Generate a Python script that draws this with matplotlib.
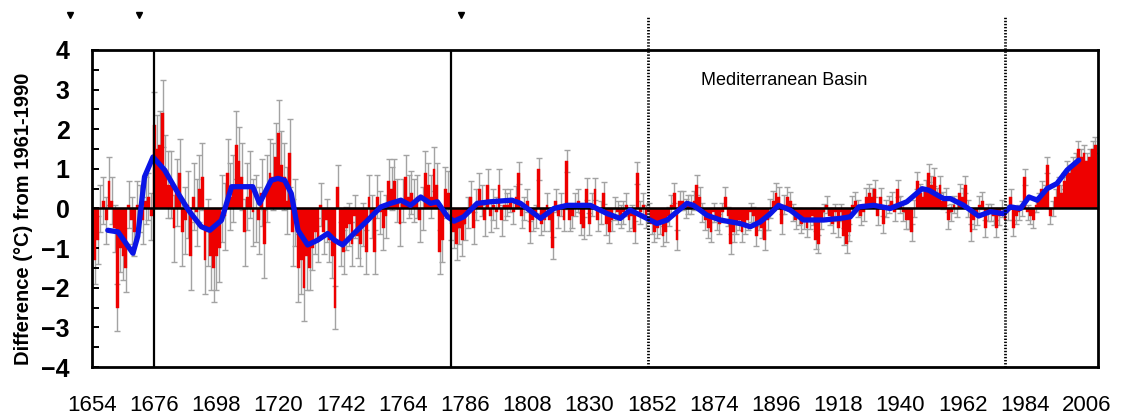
import numpy as np
import matplotlib.pyplot as plt
from matplotlib.ticker import MultipleLocator

plt.rcParams['font.family'] = ['Liberation Sans', 'DejaVu Sans']

## data
first_year = 1655
anomaly = [
    -1.3, -0.8, 0.0, 0.2, -0.3, 0.7, 0.2, -0.5, -2.5, -1.0,
    -1.2, -1.5, 0.1, -0.3, -0.6, 0.1, 0.0, -0.3, 0.2, 0.3,
    -0.2, 2.1, 1.5, 1.6, 2.4, 1.0, 0.6, 0.6, -0.5, 0.4,
    0.9, -0.6, -0.3, 0.1, -1.2, 0.3, -0.1, 0.5, 0.8, -1.3,
    -0.6, -1.2, -1.5, -1.2, -1.0, 0.0, -0.2, 0.9, 0.3, 0.5,
    1.6, 1.2, 0.8, -0.6, 0.3, 0.6, -0.1, 0.0, -0.3, 0.4,
    -0.9, 0.5, 0.9, 0.8, 1.3, 1.9, 1.1, 0.8, 0.2, 1.4,
    -0.6, -0.1, -1.5, -1.3, -2.0, -1.2, -1.5, -1.0, -0.6, -0.8,
    0.1, -0.6, -0.3, -0.8, -1.2, -2.5, 0.55, -0.9, -1.1, -0.5,
    -0.4, -0.9, -0.2, -0.7, -0.9, -0.4, -1.1, 0.3, -0.2, -1.1,
    0.3, -0.1, -0.5, -0.2, 0.7, 0.5, 0.7, 0.2, -0.4, 0.2,
    0.8, 0.3, 0.4, 0.2, 0.3, -0.3, 0.0, 0.9, 0.6, 0.3,
    1.0, 0.6, -1.1, -0.8, 0.5, 0.4, -0.4, -0.6, -0.9, -0.5,
    -0.8, -0.4, -0.1, 0.3, -0.5, 0.1, 0.5, 0.2, -0.3, 0.6,
    -0.2, 0.1, -0.1, 0.6, -0.3, 0.1, 0.1, 0.2, -0.1, 0.3,
    0.9, -0.2, 0.0, 0.2, -0.6, -0.3, -0.2, 1.0, -0.4, -0.3,
    0.1, -0.3, -1.0, 0.2, -0.2, 0.1, -0.3, 1.2, -0.3, -0.2,
    0.1, 0.2, -0.4, -0.5, 0.5, -0.4, 0.1, 0.5, -0.3, -0.1,
    0.4, -0.4, -0.6, -0.3, 0.0, -0.1, -0.2, -0.1, 0.1, -0.3,
    -0.2, -0.6, 0.9, -0.1, 0.1, -0.2, -0.1, -0.4, -0.6, -0.5,
    -0.4, -0.7, -0.6, -0.2, 0.1, 0.4, -0.8, 0.2, 0.2, 0.0,
    0.1, 0.1, 0.2, 0.6, 0.3, -0.1, -0.3, -0.5, -0.6, -0.1,
    -0.3, -0.4, -0.1, 0.3, -0.2, -0.9, -0.6, -0.4, -0.3, -0.6,
    -0.4, -0.3, -0.1, -0.2, -0.7, -0.3, -0.5, -0.8, -0.3, 0.0,
    0.2, 0.4, 0.3, -0.4, 0.1, 0.3, 0.2, -0.1, -0.3, -0.2,
    -0.4, -0.3, -0.5, -0.3, -0.2, -0.8, -0.9, -0.3, -0.1, 0.1,
    -0.2, -0.4, -0.1, -0.5, -0.1, -0.7, -0.9, -0.6, 0.1, 0.2,
    0.0, -0.2, -0.1, 0.3, 0.4, 0.3, 0.5, -0.2, 0.3, -0.4,
    0.0, 0.1, 0.2, -0.1, 0.5, 0.1, -0.1, -0.3, -0.3, -0.6,
    0.0, 0.7, 0.4, 0.3, 0.5, 0.9, 0.6, 0.8, 0.3, 0.6,
    0.2, 0.3, -0.3, -0.1, 0.1, 0.0, 0.4, 0.3, 0.6, 0.0,
    -0.6, -0.3, -0.2, 0.1, 0.2, -0.5, -0.1, -0.1, -0.2, -0.5,
    -0.2, 0.0, -0.3, -0.1, 0.3, -0.5, -0.2, -0.1, 0.0, 0.8,
    -0.1, -0.2, -0.3, 0.1, 0.2, 0.5, 0.4, 1.1, -0.2, 0.0,
    0.3, 0.6, 0.4, 0.7, 1.0, 0.9, 1.1, 1.2, 1.5, 1.3,
    1.4, 1.2, 1.3, 1.5, 1.6,
]
years = np.arange(first_year, first_year + len(anomaly))

# error bar half widths, read per period (start, end, half width)
err_periods = [
    (1655, 1675, 0.6),
    (1676, 1730, 0.85),
    (1731, 1780, 0.55),
    (1781, 1800, 0.4),
    (1801, 1850, 0.28),
    (1851, 1900, 0.25),
    (1901, 1977, 0.22),
    (1978, 2009, 0.2),
]
err = np.zeros(len(anomaly))
for start, end, e in err_periods:
    err[(years >= start) & (years <= end)] = e

# smoothed curve (blue)
smooth_years = [1659.6, 1663.2, 1668.5, 1670.2, 1672.6, 1675.6, 1679.7, 1684.5,
                1688.1, 1692.7, 1695.7, 1699.8, 1703.4, 1707, 1710.9, 1713.3,
                1717.4, 1719.8, 1722.2, 1724.5, 1726.9, 1730.3, 1733.8, 1737.4,
                1739.8, 1742.7, 1746.7, 1751.5, 1756.2, 1759.7, 1763.3, 1766.7,
                1770.3, 1773.8, 1776.2, 1779.8, 1782.1, 1785.5, 1790.3, 1795,
                1802.6, 1805.6, 1812.7, 1817.4, 1822.1, 1828, 1830.3, 1836.3,
                1840.9, 1844.4, 1849.2, 1853.9, 1857.5, 1864.5, 1866.8, 1871.6,
                1876.3, 1883.3, 1886.9, 1890.4, 1894, 1896.9, 1901, 1905.7,
                1912.8, 1918.7, 1922.3, 1925.3, 1930.6, 1936.4, 1942.3, 1947.7,
                1950.1, 1955.3, 1957.7, 1962.4, 1967.7, 1971.8, 1976.5, 1978.9,
                1982.5, 1985.5, 1988.4, 1991.9, 1995.4, 1999, 2003.1]
smooth_vals = [-0.55, -0.59, -1.13, -0.7, 0.8, 1.3, 0.97, 0.38,
               -0.04, -0.46, -0.55, -0.3, 0.55, 0.55, 0.55, 0.13,
               0.71, 0.76, 0.71, 0.38, -0.55, -0.92, -0.8, -0.63,
               -0.8, -0.92, -0.63, -0.3, 0.04, 0.13, 0.21, 0.08,
               0.29, 0.13, 0.17, -0.21, -0.32, -0.21, 0.13, 0.17,
               0.21, 0.13, -0.25, 0.0, 0.08, 0.08, 0.08, -0.13,
               -0.25, -0.04, -0.21, -0.38, -0.29, 0.13, 0.08, -0.17,
               -0.29, -0.38, -0.46, -0.34, -0.13, 0.08, -0.04, -0.29,
               -0.29, -0.25, -0.21, 0.04, 0.08, 0.0, 0.17, 0.5,
               0.46, 0.25, 0.25, 0.08, -0.19, -0.08, -0.13, 0.04,
               0.0, 0.29, 0.21, 0.5, 0.63, 0.97, 1.22]

tick_years = list(range(1654, 2007, 22))
solid_lines = [1676.0, 1781.2]
dotted_lines = [1850.8, 1977.1]
marker_years = [1646.3, 1670.7, 1784.5]

## plot
fig = plt.figure(figsize=(11.27, 4.19), dpi=100)
ax = fig.add_axes([0.0816, 0.1241, 0.8927, 0.7566])

# error bars sit behind the red bars
ax.errorbar(years, anomaly, yerr=err, fmt='none', ecolor='#a3a3a3',
            elinewidth=1.0, capsize=2.5, capthick=1.0, zorder=1)
ax.bar(years, anomaly, width=1.0, color='#ee0000', edgecolor='#ee0000',
       linewidth=0.3, zorder=2)
ax.axhline(0, color='black', lw=1.8, zorder=4)
ax.plot(smooth_years, smooth_vals, color='#0a14e6', lw=3.8, zorder=5,
        solid_joinstyle='round', solid_capstyle='round')

tr = ax.get_xaxis_transform()
for x in solid_lines:
    ax.axvline(x, color='black', lw=1.6, zorder=6)
for x in dotted_lines:
    ax.plot([x, x], [0, 1.105], transform=tr, color='black', lw=2.0,
            ls=(0, (0.5, 0.6)), clip_on=False, zorder=6)
ax.plot(marker_years, [1.11] * len(marker_years), 'v', color='black', ms=5,
        transform=tr, clip_on=False)

ax.text(1869.3, 3.24, 'Mediterranean Basin', fontsize=13, va='center', ha='left')

ax.set_xlim(1654.46, 2009.94)
ax.set_ylim(-4, 4)
ax.set_xticks(tick_years)
ax.set_xticklabels([str(y) for y in tick_years])
ax.tick_params(axis='x', length=0, pad=20, labelsize=16)
ax.yaxis.set_major_locator(MultipleLocator(1))
ax.yaxis.set_minor_locator(MultipleLocator(0.5))
ax.tick_params(axis='y', which='both', direction='in', length=5, width=1.4,
               pad=16, labelsize=18)
for lbl in ax.get_yticklabels():
    lbl.set_fontweight('bold')
for sp in ax.spines.values():
    sp.set_linewidth(2.0)

ax.set_ylabel('Difference (°C) from 1961-1990', fontsize=14.5, fontweight='bold')
ax.yaxis.set_label_coords(-0.0586, 0.467)

fig.savefig('out.png', dpi=100)
